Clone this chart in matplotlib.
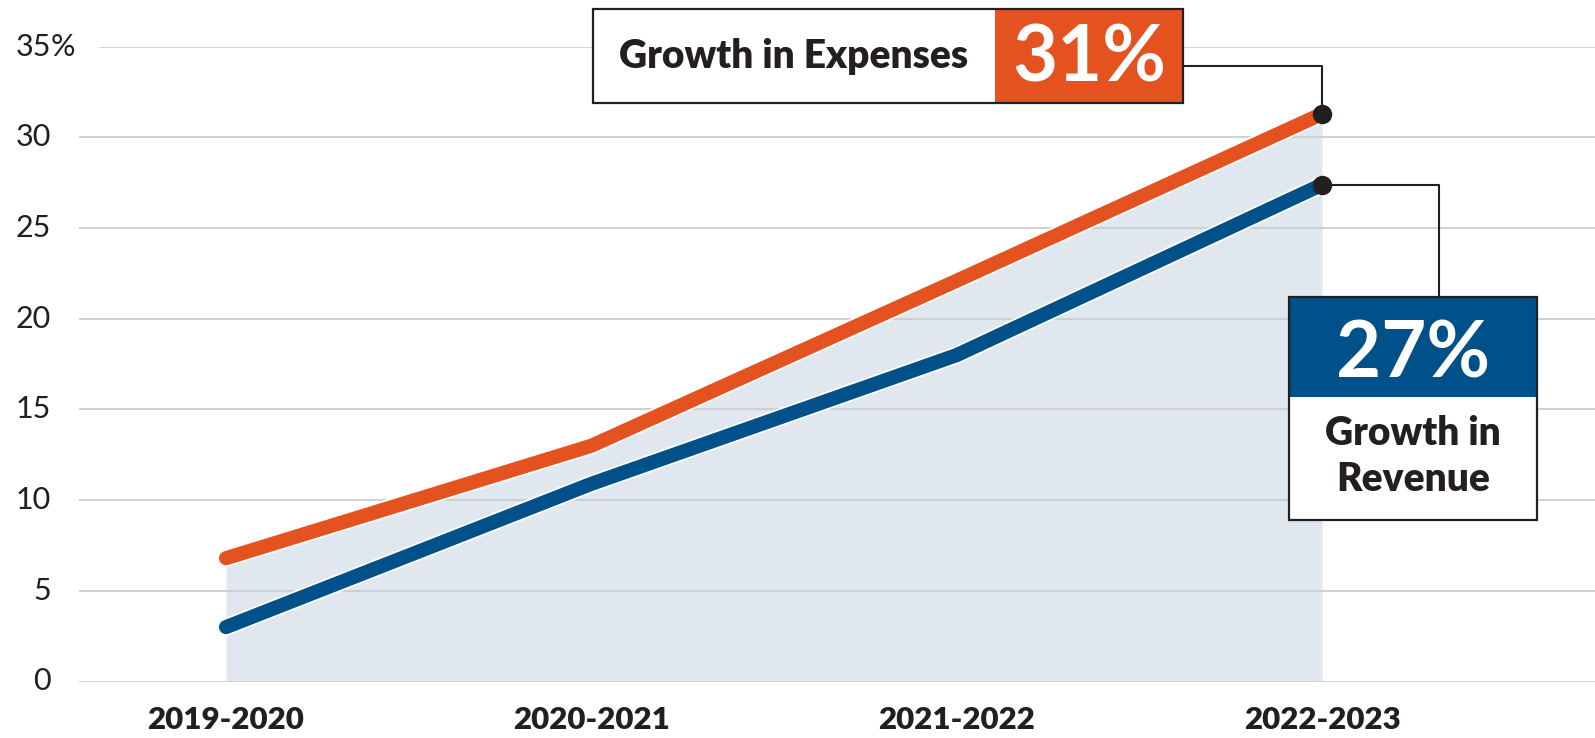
import matplotlib
matplotlib.use("Agg")
import matplotlib.pyplot as plt
import matplotlib.patheffects as pe
import matplotlib.transforms as mtrans
from matplotlib.patches import Rectangle

plt.rcParams["font.family"] = ["Lato", "DejaVu Sans"]

periods = ["2019-2020", "2020-2021", "2021-2022", "2022-2023"]
expenses = [6.8, 13.0, 22.1, 31.3]   # growth in expenses, %
revenue = [3.0, 10.9, 18.0, 27.4]    # growth in revenue, %
y_ticks = [0, 5, 10, 15, 20, 25, 30, 35]

ORANGE = "#e4521f"
BLUE = "#00518a"
FILL = "#e1e7ee"
INK = "#231f20"
GRID = "#c9c9c9"

W, H = 1595, 738
fig = plt.figure(figsize=(W / 100, H / 100), dpi=100)

# main axes: left edge at the grid start, right edge at figure edge
ax = fig.add_axes([79 / W, (H - 681.5) / H, 1 - 79 / W, (681.5 - 46.8) / H])
ax.set_xlim(-0.4024, 3.747)
ax.set_ylim(0, 35)
ax.axis("off")

x = list(range(len(periods)))

ax.fill_between(x, 0, expenses, color=FILL, lw=0, zorder=1)

for t in y_ticks:
    xmin = 21 / 1516 if t == 35 else 0
    ax.axhline(t, xmin=xmin, xmax=1, color=GRID, lw=1.2, zorder=2)

outline = [pe.Stroke(linewidth=12.8, foreground="white"), pe.Normal()]
for vals, col in [(revenue, BLUE), (expenses, ORANGE)]:
    ax.plot(x, vals, color=col, lw=10.2, solid_capstyle="round",
            solid_joinstyle="round", path_effects=outline, zorder=3)
    ax.plot(x[-1], vals[-1], "o", color=INK, ms=13, zorder=5)

# y tick labels (number right-aligned, % hangs for the top one)
lab_tr = mtrans.blended_transform_factory(fig.transFigure, ax.transData)
for t in y_ticks:
    ax.text(51 / W, t, str(t), transform=lab_tr, ha="right", va="center",
            fontsize=22, color=INK)
ax.text(51 / W, 35, "%", transform=lab_tr, ha="left", va="center",
        fontsize=22, color=INK)

# x labels
xl_tr = mtrans.blended_transform_factory(ax.transData, fig.transFigure)
for i, p in enumerate(periods):
    ax.text(i, (H - 720) / H, p, transform=xl_tr, ha="center", va="center",
            fontsize=22.5, fontweight="heavy", color=INK)

# overlay in pixel coordinates (origin top-left) for callout boxes
ov = fig.add_axes([0, 0, 1, 1])
ov.set_xlim(0, W)
ov.set_ylim(H, 0)
ov.axis("off")
ov.patch.set_alpha(0)


def to_px(xv, yv):
    dx, dy = ax.transData.transform((xv, yv))
    return dx, H - dy


# expenses callout
ex_x, ex_y = to_px(x[-1], expenses[-1])
ov.plot([1183, ex_x, ex_x], [66, 66, ex_y], color=INK, lw=1.5, zorder=1)
ov.add_patch(Rectangle((593, 9), 1183 - 593, 103 - 9, facecolor="white",
                       edgecolor="none", zorder=2))
ov.add_patch(Rectangle((995, 9), 1183 - 995, 103 - 9, facecolor=ORANGE,
                       edgecolor="none", zorder=3))
ov.add_patch(Rectangle((593, 9), 1183 - 593, 103 - 9, facecolor="none",
                       edgecolor=INK, lw=1.6, zorder=4))
ov.text(794, 68, "Growth in Expenses", ha="center", va="baseline",
        fontsize=28, fontweight="heavy", color=INK, zorder=5)
ov.text(1089, 81.5, f"{round(expenses[-1])}%", ha="center", va="baseline",
        fontsize=56, fontweight="bold", color="white", zorder=5)

# revenue callout
rv_x, rv_y = to_px(x[-1], revenue[-1])
ov.plot([rv_x, 1439, 1439], [rv_y, rv_y, 297], color=INK, lw=1.5, zorder=1)
ov.add_patch(Rectangle((1289, 297), 1537 - 1289, 520 - 297, facecolor="white",
                       edgecolor="none", zorder=2))
ov.add_patch(Rectangle((1289, 297), 1537 - 1289, 397 - 297, facecolor=BLUE,
                       edgecolor="none", zorder=3))
ov.add_patch(Rectangle((1289, 297), 1537 - 1289, 520 - 297, facecolor="none",
                       edgecolor=INK, lw=1.6, zorder=4))
ov.text(1413, 378, f"{round(revenue[-1])}%", ha="center", va="baseline",
        fontsize=56, fontweight="bold", color="white", zorder=5)
ov.text(1413, 445, "Growth in", ha="center", va="baseline",
        fontsize=28, fontweight="heavy", color=INK, zorder=5)
ov.text(1413, 491, "Revenue", ha="center", va="baseline",
        fontsize=28, fontweight="heavy", color=INK, zorder=5)

fig.savefig("out.png", dpi=100)
